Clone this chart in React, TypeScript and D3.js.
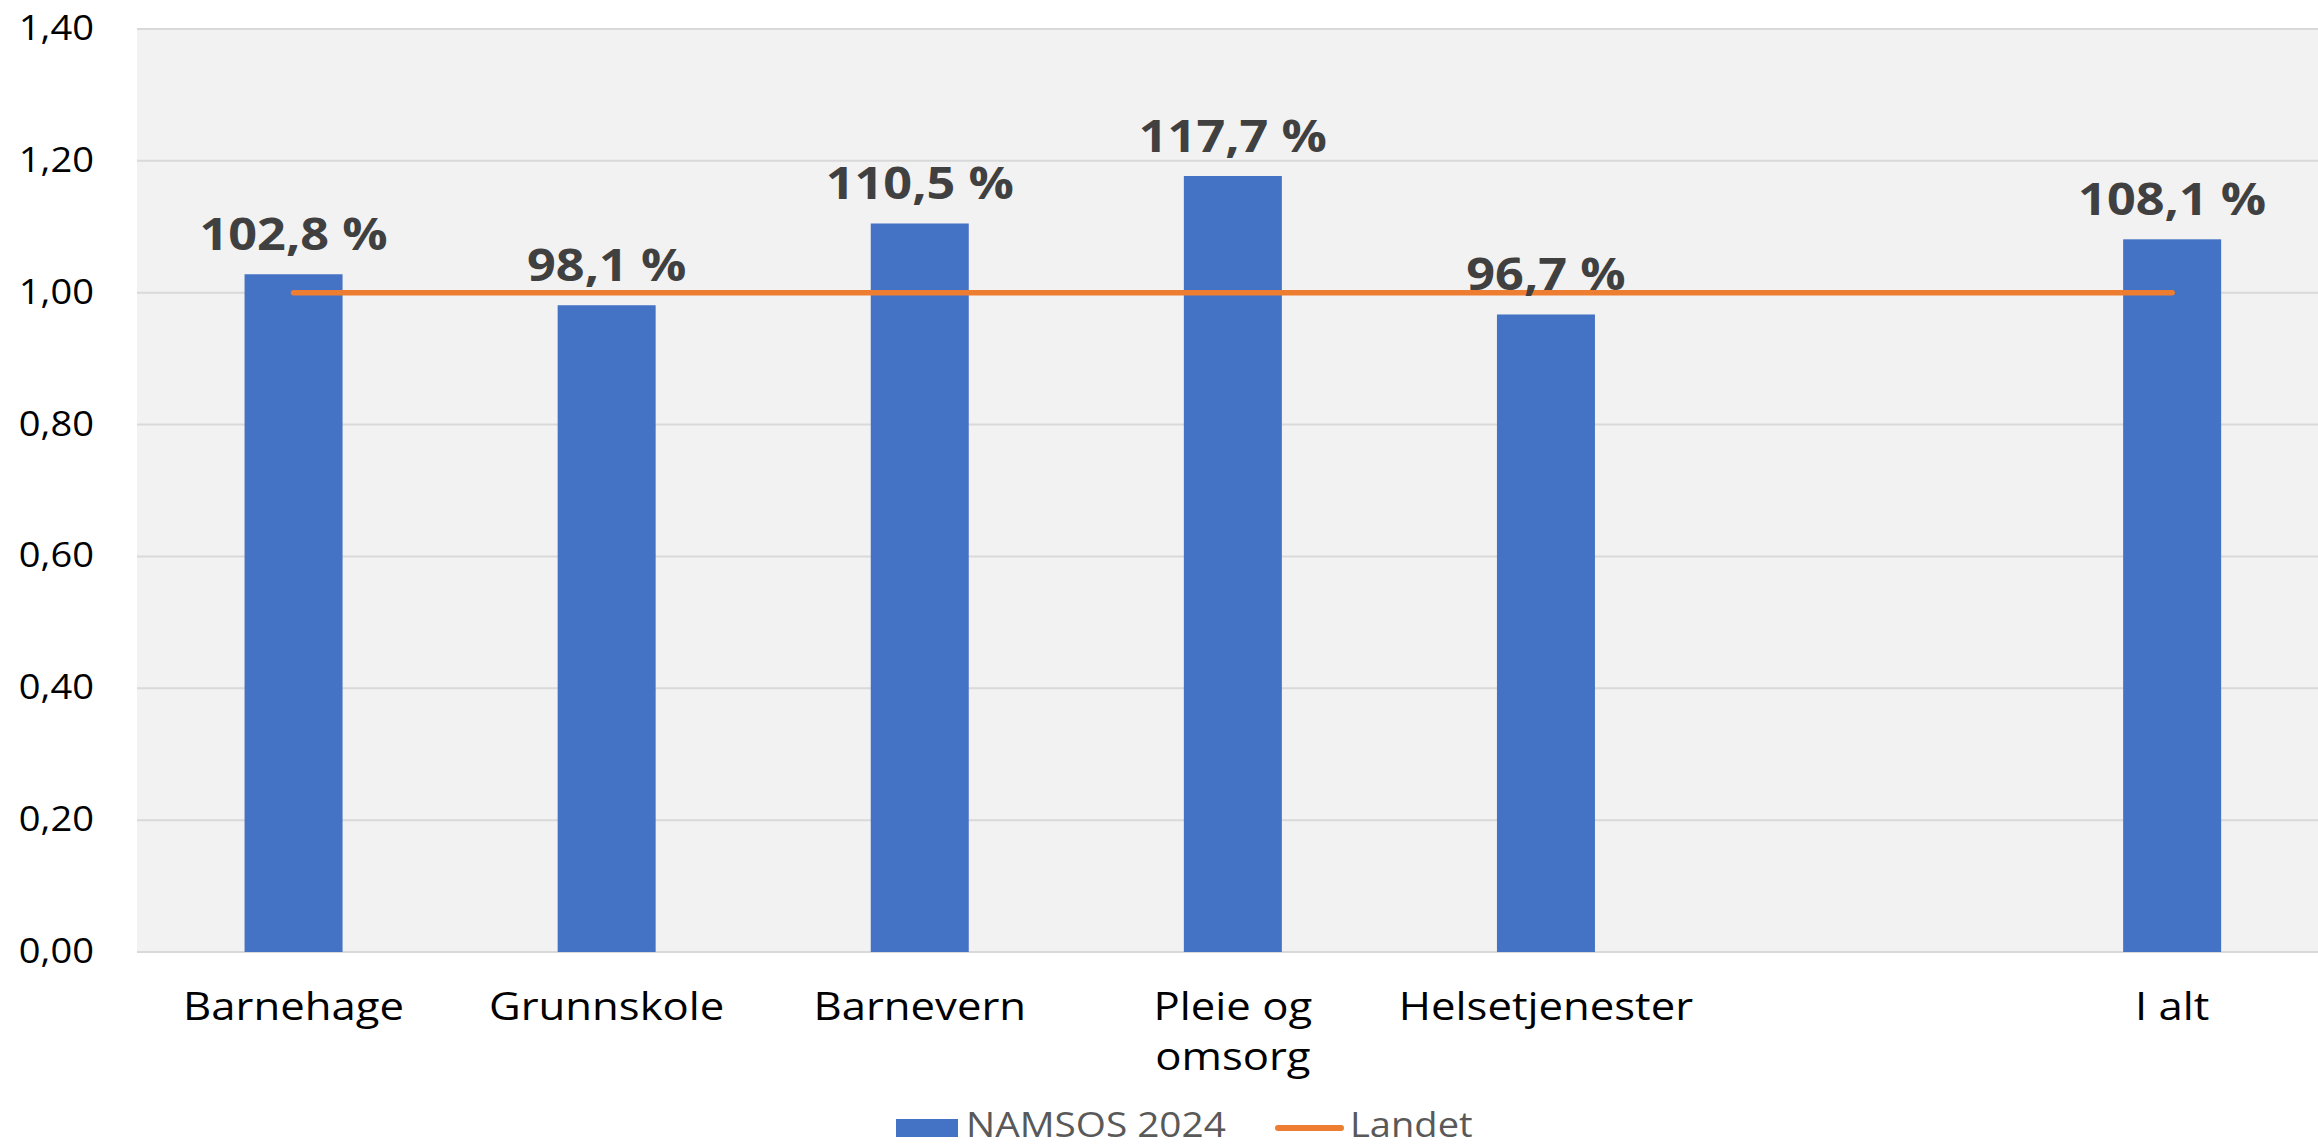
import React from "react";
import * as d3 from "d3";

const categories: string[][] = [
  ["Barnehage"],
  ["Grunnskole"],
  ["Barnevern"],
  ["Pleie og", "omsorg"],
  ["Helsetjenester"],
  [""],
  ["I alt"],
];
const namsos2024: (number | null)[] = [1.028, 0.981, 1.105, 1.177, 0.967, null, 1.081];
const landet: number[] = [1, 1, 1, 1, 1, 1, 1];
const dataLabels: (string | null)[] = ["102,8 %", "98,1 %", "110,5 %", "117,7 %", "96,7 %", null, "108,1 %"];
const yTicks: number[] = [0, 0.2, 0.4, 0.6, 0.8, 1.0, 1.2, 1.4];
const seriesNames = ["NAMSOS 2024", "Landet"];

const W = 2318;
const H = 1146;
const FONT = "'Open Sans', 'Segoe UI', sans-serif";
const SX = 1.12;
const BAR = "#4472C4";
const LINE = "#ED7D31";

export default function App() {
  const keys = categories.map((_, i) => String(i));
  const x = d3.scaleBand<string>().domain(keys).range([137, 137 + 7 * 313.1]).padding(0);
  const y = d3.scaleLinear().domain([0, 1.4]).range([952, 29]);
  const barW = x.bandwidth() * 0.313;
  const cx = (i: number) => (x(String(i)) as number) + x.bandwidth() / 2;

  const linePath = d3
    .line<number>()
    .x((_, i) => cx(i))
    .y((d) => y(d))(landet) as string;

  const fmt = (v: number) => v.toFixed(2).replace(".", ",");
  const legY = 1137;

  return (
    <svg
      width={W}
      height={H}
      style={{ position: "absolute", left: 0, top: 0, background: "#fff" }}
      fontFamily={FONT}
    >
      <rect x={0} y={0} width={W} height={H} fill="#fff" />
      <rect x={137} y={y(1.4)} width={W - 137} height={y(0) - y(1.4)} fill="#F2F2F2" />
      {yTicks.map((t) => (
        <g key={t}>
          <line x1={137} x2={W} y1={y(t)} y2={y(t)} stroke="#D9D9D9" strokeWidth={2} />
          <text
            transform={`translate(94,${y(t) + 11}) scale(${SX},1)`}
            textAnchor="end"
            fontSize={34}
            fill="#000"
          >
            {fmt(t)}
          </text>
        </g>
      ))}
      {namsos2024.map((v, i) =>
        v == null ? null : (
          <rect
            key={i}
            x={cx(i) - barW / 2}
            y={y(v)}
            width={barW}
            height={y(0) - y(v)}
            fill={BAR}
          />
        )
      )}
      <path d={linePath} fill="none" stroke={LINE} strokeWidth={5.5} strokeLinecap="round" />
      {namsos2024.map((v, i) =>
        v == null ? null : (
          <text
            key={i}
            transform={`translate(${cx(i)},${y(v) - 24}) scale(${SX},1)`}
            textAnchor="middle"
            fontSize={45}
            fontWeight={700}
            fill="#404040"
          >
            {dataLabels[i]}
          </text>
        )
      )}
      {categories.map((lines, i) =>
        lines.map((l, j) => (
          <text
            key={`${i}-${j}`}
            transform={`translate(${cx(i)},${1020 + j * 50}) scale(${SX},1)`}
            textAnchor="middle"
            fontSize={39}
            fill="#000"
          >
            {l}
          </text>
        ))
      )}
      <g>
        <rect x={896} y={legY - 18} width={62} height={18} fill={BAR} />
        <text transform={`translate(966,${legY}) scale(1.14,1)`} fontSize={34} fill="#595959">
          {seriesNames[0]}
        </text>
        <line x1={1278} x2={1341} y1={legY - 9} y2={legY - 9} stroke={LINE} strokeWidth={6} strokeLinecap="round" />
        <text transform={`translate(1350,${legY}) scale(${SX},1)`} fontSize={34} fill="#595959">
          {seriesNames[1]}
        </text>
      </g>
    </svg>
  );
}
